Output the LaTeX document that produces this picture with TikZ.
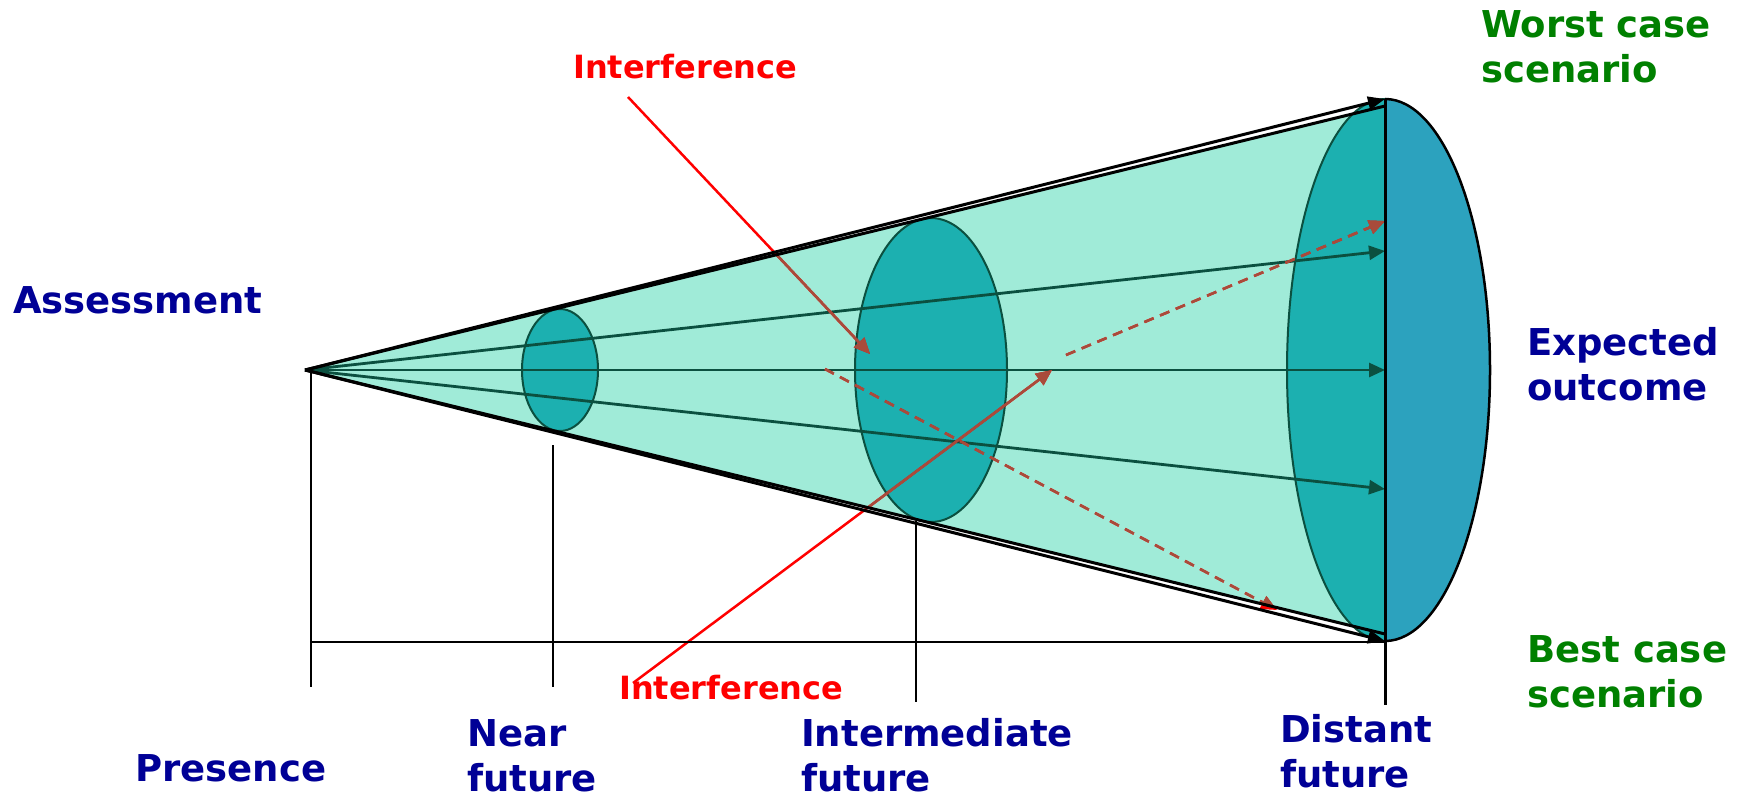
\documentclass[tikz,border=0pt]{standalone}
\usepackage{fontspec}
\setmainfont{DejaVu Sans}
\usetikzlibrary{arrows.meta,shapes.geometric}
\definecolor{conefill}{HTML}{A0EBD8}
\definecolor{tealA}{HTML}{1CB0B0}
\definecolor{blueA}{HTML}{2CA2BE}
\definecolor{dkgreen}{HTML}{0B5040}
\definecolor{brownA}{HTML}{A84B3B}
\definecolor{navyA}{HTML}{000096}
\definecolor{greenA}{HTML}{008000}
\begin{document}
\begin{tikzpicture}[x=1pt,y=-1pt,
  conearrow/.style={draw=black, line width=3pt, -{Triangle[length=17pt,width=13pt]}},
  coneedge/.style={draw=black, line width=3pt},
  garrow/.style={draw=dkgreen, line width=2.8pt, -{Triangle[length=16pt,width=14pt]}},
  iarrow/.style={line width=2.5pt, -{Triangle[length=16pt,width=14pt]}},
  dashpat/.style={dash pattern=on 10pt off 7pt},
  ell/.style={ellipse, draw=dkgreen, fill=tealA, line width=2pt, inner sep=0pt},
  axisline/.style={draw=black, line width=2.5pt},
  blbl/.style={font=\bfseries\fontsize{37}{45}\selectfont, text=navyA, align=left, anchor=base west, inner sep=0pt},
  glbl/.style={font=\bfseries\fontsize{37}{45}\selectfont, text=greenA, align=left, anchor=base west, inner sep=0pt},
  rlbl/.style={font=\bfseries\fontsize{32}{38}\selectfont, text=red, anchor=base west, inner sep=0pt}]
\useasboundingbox (0,0) rectangle (1737,797);
% coordinates
\coordinate (apex) at (305,370);
\coordinate (cT) at (1385,106);
\coordinate (cB) at (1385,634);
\coordinate (eT) at (1385,99);
\coordinate (eB) at (1385,641);
\coordinate (eC) at (1385,370);
\coordinate (vBot) at (1385,705);
\coordinate (g1) at (1385,251);
\coordinate (g2) at (1385,370);
\coordinate (g3) at (1385,489);
\coordinate (i1s) at (628,97);
\coordinate (i1e) at (870,354);
\coordinate (i2s) at (633,683);
\coordinate (i2e) at (1052,370);
\coordinate (d1s) at (825,369);
\coordinate (d1e) at (1277,610);
\coordinate (d2s) at (1066,355);
\coordinate (d2e) at (1385,221);
\coordinate (pT) at (311,372);
\coordinate (pB) at (311,687);
\coordinate (nT) at (553,445);
\coordinate (nB) at (553,687);
\coordinate (mT) at (916,521);
\coordinate (mB) at (916,702);
\coordinate (aL) at (311,642);
\coordinate (aR) at (1385,642);
% cone
\fill[conefill] (apex) -- (cT) -- (cB) -- cycle;
% big ellipse halves
\begin{scope}
\clip (1200,0) rectangle (1385,797);
\draw[fill=tealA, draw=dkgreen, line width=2pt] (eC) ellipse [x radius=98, y radius=271];
\end{scope}
\begin{scope}
\clip (1385,0) rectangle (1737,797);
\draw[fill=blueA, draw=black, line width=2.5pt] (eC) ellipse [x radius=105, y radius=271];
\end{scope}
% smaller ellipses
\node[ell, minimum width=76pt, minimum height=122pt] (nearell) at (560,370) {};
\node[ell, minimum width=152pt, minimum height=304pt] (midell) at (931,370) {};
% green arrows
\draw[garrow] (apex) -- (g1);
\draw[garrow] (apex) -- (g2);
\draw[garrow] (apex) -- (g3);
% interference arrows (red outside, brown inside the cone)
\draw[iarrow, red] (i1s) -- (i1e);
\draw[iarrow, red] (i2s) -- (i2e);
\draw[iarrow, red, dashpat] (d1s) -- (d1e);
\draw[iarrow, red, dashpat] (d2s) -- (d2e);
\begin{scope}
\clip (apex) -- (cT) -- (cB) -- cycle;
\draw[iarrow, brownA] (i1s) -- (i1e);
\draw[iarrow, brownA] (i2s) -- (i2e);
\draw[iarrow, brownA, dashpat] (d1s) -- (d1e);
\draw[iarrow, brownA, dashpat] (d2s) -- (d2e);
\end{scope}
% cone edges and arrows
\draw[coneedge] (apex) -- (cT);
\draw[coneedge] (apex) -- (cB);
\draw[conearrow] (apex) -- (eT);
\draw[conearrow] (apex) -- (eB);
\draw[coneedge] (eT) -- (vBot);
% time axis
\draw[axisline] (pT) -- (pB);
\draw[axisline] (nT) -- (nB);
\draw[axisline] (mT) -- (mB);
\draw[axisline] (aL) -- (aR);
% labels (base anchor = baseline of last line)
\node[glbl] (worst) at (1481,83) {Worst case\\scenario};
\node[blbl] (assess) at (13,313) {Assessment};
\node[blbl] (expected) at (1527,400) {Expected\\outcome};
\node[glbl] (best) at (1527,707) {Best case\\scenario};
\node[blbl] (presence) at (135,781) {Presence};
\node[blbl] (nearlbl) at (467,791) {Near\\future};
\node[blbl] (intlbl) at (801,791) {Intermediate\\future};
\node[blbl] (distlbl) at (1280,787) {Distant\\future};
\node[rlbl] (intf1) at (573,79) {Interference};
\node[rlbl] (intf2) at (619,699) {Interference};
\end{tikzpicture}
\end{document}
